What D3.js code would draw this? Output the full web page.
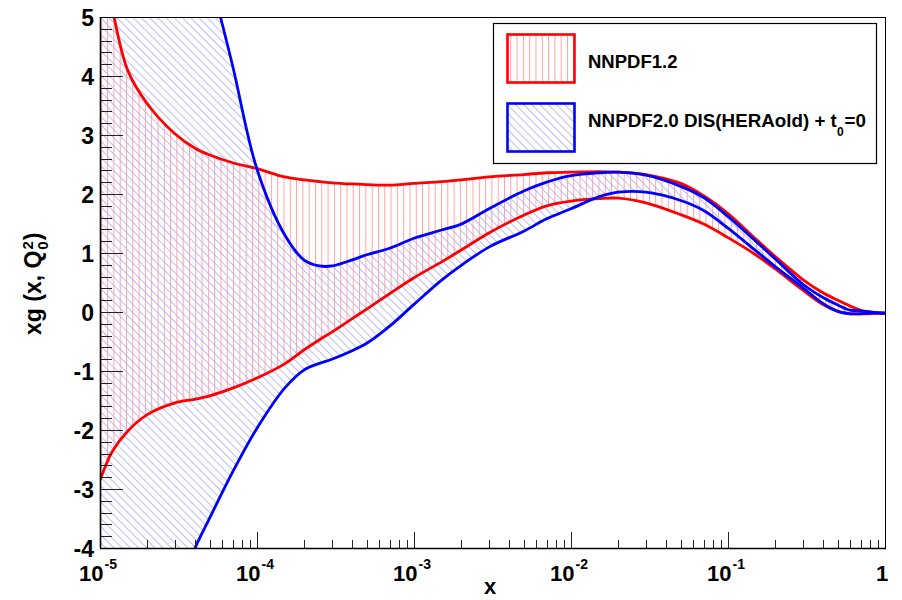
<!DOCTYPE html>
<html>
<head>
<meta charset="utf-8">
<script src="https://cdn.jsdelivr.net/npm/d3@7"></script>
<style>
  html, body { margin: 0; padding: 0; background: #fff; }
  svg { display: block; }
  text { font-family: "Liberation Sans", Arial, Helvetica, sans-serif; font-weight: bold; fill: #000; }
</style>
</head>
<body>
<svg id="chart" width="902" height="600"></svg>
<script>
// x grid shared by all bands
const xGrid = [1e-5, 1.2e-5, 1.5e-5, 2e-5, 3e-5, 4e-5, 5e-5, 7e-5, 1e-4, 1.5e-4, 2e-4, 2.5e-4, 3e-4, 4e-4, 5e-4, 7e-4,
  1e-3, 1.5e-3, 2e-3, 3e-3, 5e-3, 7e-3, 1e-2, 1.5e-2, 2e-2, 3e-2, 5e-2, 7e-2,
  0.1, 0.15, 0.2, 0.3, 0.4, 0.5, 0.6, 0.7, 0.8, 0.9, 1];

// NNPDF1.2 one-sigma band of xg(x, Q0^2)
const nnpdf12Upper = [6.6, 5.15, 4.1, 3.53, 3.02, 2.78, 2.66, 2.53, 2.43, 2.29, 2.24, 2.21, 2.19, 2.17, 2.16, 2.15,
  2.18, 2.21, 2.24, 2.29, 2.33, 2.36, 2.37, 2.38, 2.37, 2.33, 2.18, 1.97,
  1.67, 1.24, 0.94, 0.55, 0.33, 0.20, 0.10, 0.03, 0.00, -0.02, -0.02];
const nnpdf12Lower = [-2.85, -2.36, -2.02, -1.74, -1.54, -1.48, -1.42, -1.29, -1.12, -0.88, -0.64, -0.47, -0.34, -0.12, 0.05, 0.31,
  0.58, 0.85, 1.05, 1.34, 1.64, 1.80, 1.88, 1.92, 1.93, 1.85, 1.65, 1.49,
  1.26, 0.97, 0.73, 0.37, 0.13, 0.01, -0.03, -0.03, -0.03, -0.02, -0.02];

// NNPDF2.0 DIS (HERA old) band, t0 = 0
const nnpdf20Upper = [22, 19.5, 17, 13, 9, 7, 5.75, 4.17, 2.42, 1.31, 0.88, 0.78, 0.78, 0.88, 0.97, 1.08,
  1.25, 1.39, 1.49, 1.75, 2.05, 2.20, 2.31, 2.36, 2.37, 2.32, 2.13, 1.94,
  1.62, 1.20, 0.90, 0.47, 0.25, 0.12, 0.03, 0.02, 0.00, -0.01, -0.02];
const nnpdf20Lower = [-7.9, -7.3, -6.7, -5.9, -4.88, -4.02, -3.49, -2.71, -1.97, -1.29, -0.98, -0.87, -0.80, -0.66, -0.53, -0.24,
  0.13, 0.54, 0.79, 1.10, 1.37, 1.58, 1.75, 1.95, 2.03, 2.03, 1.89, 1.72,
  1.42, 1.04, 0.77, 0.41, 0.15, 0.01, -0.03, -0.03, -0.02, -0.02, -0.02];

const xMajor = [1e-5, 1e-4, 1e-3, 1e-2, 1e-1, 1];
const xMajorExp = ["-5", "-4", "-3", "-2", "-1", null];
const yMajor = [-4, -3, -2, -1, 0, 1, 2, 3, 4, 5];
const legendLabels = ["NNPDF1.2", "NNPDF2.0 DIS(HERAold) + t"];

const frame = { left: 100, right: 885, top: 17, bottom: 548 };
const svg = d3.select("#chart");

const x = d3.scaleLog().domain([1e-5, 1]).range([frame.left, frame.right]);
const y = d3.scaleLinear().domain([-4, 5]).range([frame.bottom, frame.top]);

// hatch patterns
const defs = svg.append("defs");
defs.append("pattern")
  .attr("id", "hatchRed").attr("patternUnits", "userSpaceOnUse")
  .attr("width", 6.3).attr("height", 10)
  .append("line").attr("x1", 0.5).attr("x2", 0.5).attr("y1", 0).attr("y2", 10)
  .attr("stroke", "#ffa2a2").attr("stroke-width", 1);
defs.append("pattern")
  .attr("id", "hatchBlue").attr("patternUnits", "userSpaceOnUse")
  .attr("width", 5.8).attr("height", 10)
  .attr("patternTransform", "rotate(-45)")
  .append("line").attr("x1", 0.5).attr("x2", 0.5).attr("y1", 0).attr("y2", 10)
  .attr("stroke", "#b4b5f7").attr("stroke-width", 0.9);
defs.append("clipPath").attr("id", "plotClip")
  .append("rect").attr("x", frame.left).attr("y", frame.top)
  .attr("width", frame.right - frame.left).attr("height", frame.bottom - frame.top);

const bandRed = xGrid.map((v, i) => ({ x: v, lo: nnpdf12Lower[i], hi: nnpdf12Upper[i] }));
const bandBlue = xGrid.map((v, i) => ({ x: v, lo: nnpdf20Lower[i], hi: nnpdf20Upper[i] }));

const curve = d3.curveCatmullRom.alpha(0.5);
const area = d3.area().curve(curve)
  .x(d => x(d.x)).y0(d => y(d.lo)).y1(d => y(d.hi));
const lineLo = d3.line().curve(curve).x(d => x(d.x)).y(d => y(d.lo));
const lineHi = d3.line().curve(curve).x(d => x(d.x)).y(d => y(d.hi));

const plot = svg.append("g").attr("clip-path", "url(#plotClip)");
plot.append("path").datum(bandRed).attr("d", area).attr("fill", "url(#hatchRed)");
plot.append("path").datum(bandBlue).attr("d", area).attr("fill", "url(#hatchBlue)");

const bands = [
  { data: bandRed, color: "#ff0000" },
  { data: bandBlue, color: "#0000ff" }
];
bands.forEach(b => {
  [lineLo, lineHi].forEach(gen => {
    plot.append("path").datum(b.data).attr("d", gen)
      .attr("fill", "none").attr("stroke", b.color).attr("stroke-width", 2.8)
      .attr("stroke-linejoin", "round");
  });
});

// y axis ticks (5 subdivisions per unit)
const yTicks = svg.append("g").attr("stroke", "#222").attr("stroke-width", 1);
d3.range(-4, 5.0001, 0.2).forEach(v => {
  const major = Math.abs(v - Math.round(v)) < 1e-6;
  const py = Math.round(y(v)) + 0.5;
  yTicks.append("line").attr("x1", frame.left).attr("x2", frame.left + (major ? 23 : 12))
    .attr("y1", py).attr("y2", py);
});
svg.append("g").selectAll("text").data(yMajor).join("text")
  .attr("x", 94).attr("y", d => y(d) + 8.5)
  .attr("text-anchor", "end").attr("font-size", 23)
  .text(d => d);

// x axis ticks (decades with 2..9 minors)
const xTicks = svg.append("g").attr("stroke", "#222").attr("stroke-width", 1);
for (let e = -5; e < 0; e++) {
  for (let m = 1; m <= 9; m++) {
    const v = m * Math.pow(10, e);
    const px = Math.round(x(v)) + 0.5;
    xTicks.append("line").attr("x1", px).attr("x2", px)
      .attr("y1", frame.bottom).attr("y2", frame.bottom - (m === 1 ? 16 : 8));
  }
}
const xl = svg.append("g");
xMajor.forEach((v, i) => {
  const t = xl.append("text").attr("y", 581).attr("font-size", 22);
  if (xMajorExp[i] === null) {
    t.attr("x", x(v) - 3).attr("text-anchor", "middle").text("1");
  } else {
    t.attr("x", x(v) - 2).attr("text-anchor", "middle");
    t.append("tspan").text("10");
    t.append("tspan").attr("font-size", 14).attr("dy", -12).attr("dx", 1).text(xMajorExp[i]);
  }
});

// frame
svg.append("rect").attr("x", frame.left + 0.5).attr("y", frame.top + 0.5)
  .attr("width", frame.right - frame.left).attr("height", frame.bottom - frame.top)
  .attr("fill", "none").attr("stroke", "#000").attr("stroke-width", 1);
svg.append("line").attr("x1", frame.left).attr("x2", frame.right + 1)
  .attr("y1", frame.bottom + 0.5).attr("y2", frame.bottom + 0.5)
  .attr("stroke", "#000").attr("stroke-width", 1.6);
svg.append("line").attr("x1", frame.left + 0.5).attr("x2", frame.left + 0.5)
  .attr("y1", frame.top).attr("y2", frame.bottom)
  .attr("stroke", "#000").attr("stroke-width", 1.6);

// axis titles
svg.append("text").attr("x", 490).attr("y", 594).attr("text-anchor", "middle")
  .attr("font-size", 22).text("x");
const yt = svg.append("text").attr("transform", "translate(41,335) rotate(-90)")
  .attr("font-size", 23);
yt.append("tspan").text("xg (x, Q");
yt.append("tspan").attr("font-size", 15).attr("dy", 7).attr("dx", 1).text("0");
yt.append("tspan").attr("font-size", 15).attr("dy", -15).attr("dx", -8.3).text("2");
yt.append("tspan").attr("dy", 8).attr("dx", 1).text(")");

// legend
const lg = svg.append("g");
lg.append("rect").attr("x", 493.5).attr("y", 23.5).attr("width", 383).attr("height", 140)
  .attr("fill", "#fff").attr("stroke", "#000").attr("stroke-width", 1.2);
const swatches = [
  { y: 34, fill: "url(#hatchRed)", color: "#ff0000" },
  { y: 103, fill: "url(#hatchBlue)", color: "#0000ff" }
];
swatches.forEach(s => {
  lg.append("rect").attr("x", 507.5).attr("y", s.y + 0.5).attr("width", 67).attr("height", 48)
    .attr("fill", s.fill).attr("stroke", s.color).attr("stroke-width", 2.6);
});
lg.append("text").attr("x", 588).attr("y", 68).attr("font-size", 18.5).text(legendLabels[0]);
const l2 = lg.append("text").attr("x", 588).attr("y", 127).attr("font-size", 18.8);
l2.append("tspan").text(legendLabels[1]);
l2.append("tspan").attr("font-size", 12).attr("dy", 9).attr("dx", 0).text("0");
l2.append("tspan").attr("dy", -9).attr("dx", 1).text("=0");
</script>
</body>
</html>
